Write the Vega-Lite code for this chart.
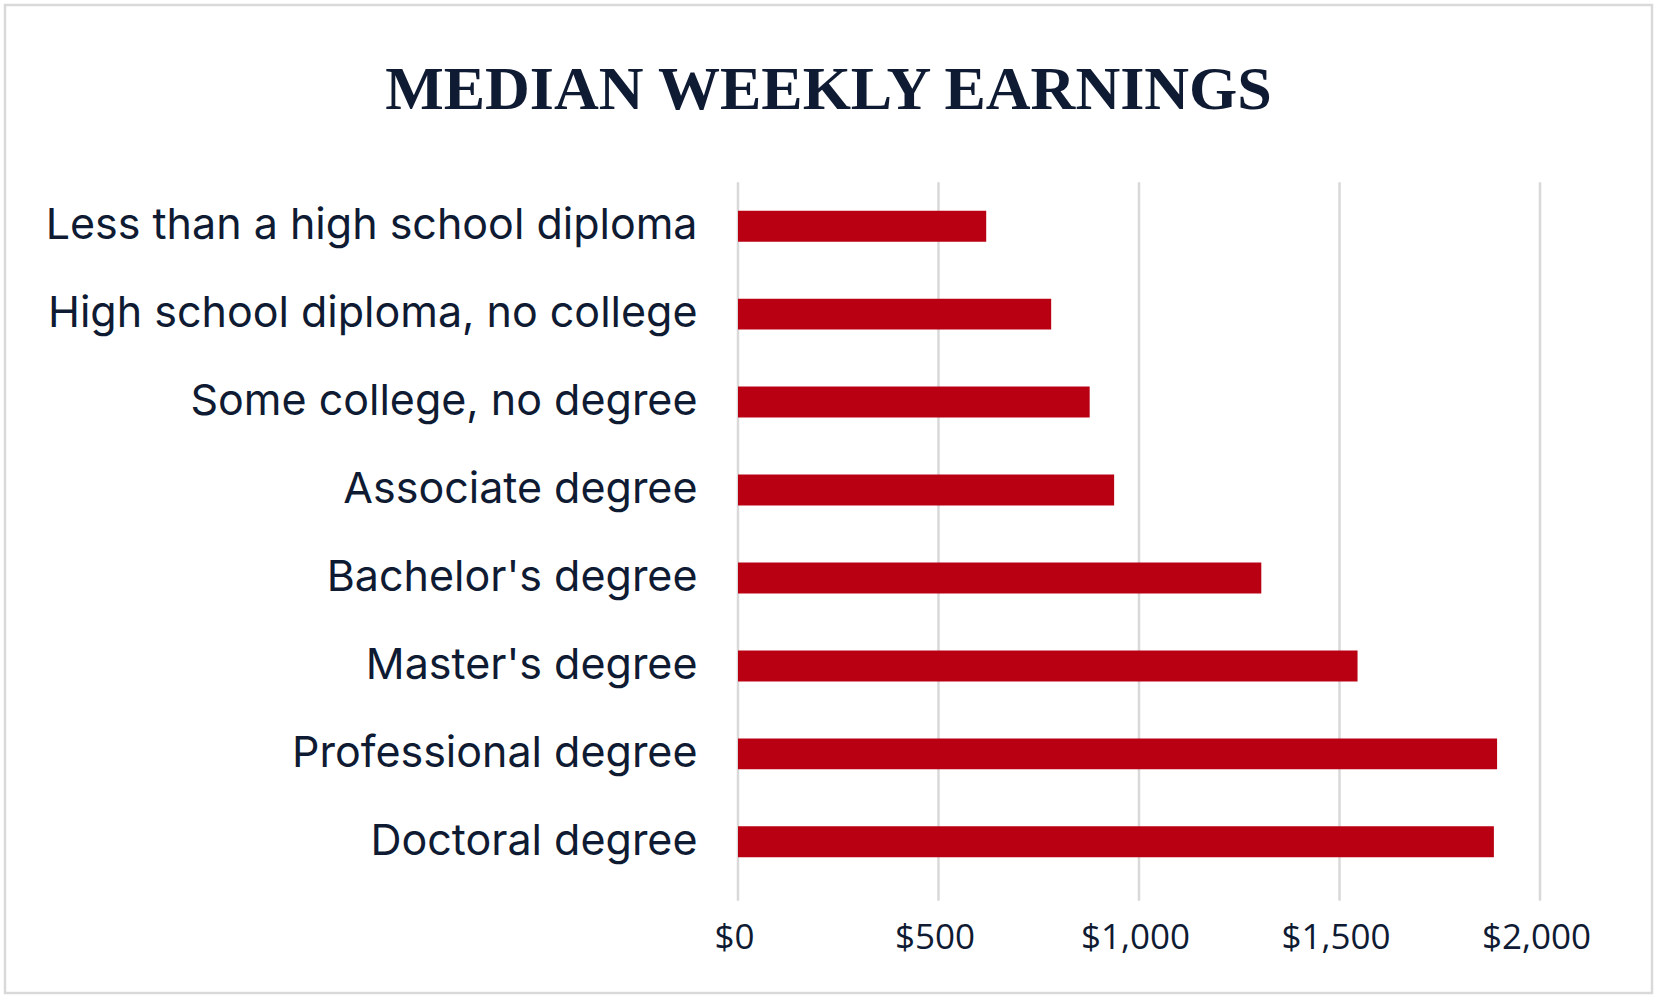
{
  "$schema": "https://vega.github.io/schema/vega-lite/v6.json",
  "autosize": "none",
  "width": 1647,
  "height": 988,
  "padding": {"left": 5, "top": 5, "right": 16, "bottom": 15},
  "background": "white",
  "title": {
    "text": "MEDIAN WEEKLY EARNINGS",
    "font": "Liberation Serif",
    "fontSize": 62,
    "fontWeight": "bold",
    "color": "#0F1B33",
    "anchor": "middle",
    "frame": "group",
    "baseline": "alphabetic",
    "offset": -166
  },
  "config": {
    "view": {"stroke": "#D9D9D9", "strokeWidth": 2.5}
  },
  "layer": [
    {
      "data": {"values": [{"tick": 0}, {"tick": 500}, {"tick": 1000}, {"tick": 1500}, {"tick": 2000}]},
      "mark": {"type": "rule", "color": "#D9D9D9", "strokeWidth": 2.5, "yOffset": -43.9, "y2Offset": 59},
      "encoding": {
        "x": {"field": "tick", "type": "quantitative"},
        "y": {"datum": "Less than a high school diploma", "type": "nominal"},
        "y2": {"datum": "Doctoral degree"}
      }
    },
    {
      "data": {
        "values": [
          {"education": "Less than a high school diploma", "earnings": 619},
          {"education": "High school diploma, no college", "earnings": 781},
          {"education": "Some college, no degree", "earnings": 877},
          {"education": "Associate degree", "earnings": 938},
          {"education": "Bachelor's degree", "earnings": 1305},
          {"education": "Master's degree", "earnings": 1545},
          {"education": "Professional degree", "earnings": 1893},
          {"education": "Doctoral degree", "earnings": 1885}
        ]
      },
      "mark": {"type": "bar", "color": "#B90012"},
      "encoding": {
        "y": {
          "field": "education",
          "type": "nominal",
          "sort": null,
          "scale": {
            "domain": [
              "Less than a high school diploma",
              "High school diploma, no college",
              "Some college, no degree",
              "Associate degree",
              "Bachelor's degree",
              "Master's degree",
              "Professional degree",
              "Doctoral degree"
            ],
            "range": [205.7, 852.3],
            "paddingInner": 0.648,
            "paddingOuter": 0
          },
          "axis": {
            "title": null,
            "offset": -733,
            "domain": false,
            "ticks": false,
            "grid": false,
            "labelPadding": 41,
            "labelLimit": 0,
            "labelFont": "Inter",
            "labelFontSize": 43,
            "labelColor": "#0F1B33"
          }
        },
        "x": {
          "field": "earnings",
          "type": "quantitative",
          "scale": {"domain": [-1827.9, 2279.3], "nice": false, "zero": false},
          "axis": {
            "title": null,
            "values": [0, 500, 1000, 1500, 2000],
            "format": "$,.0f",
            "offset": -107.3,
            "domain": false,
            "ticks": false,
            "grid": false,
            "labelPadding": 52,
            "labelBaseline": "middle",
            "labelOffset": -4,
            "labelFont": "Open Sans",
            "labelFontSize": 35,
            "labelColor": "#0F1B33"
          }
        }
      }
    }
  ]
}
